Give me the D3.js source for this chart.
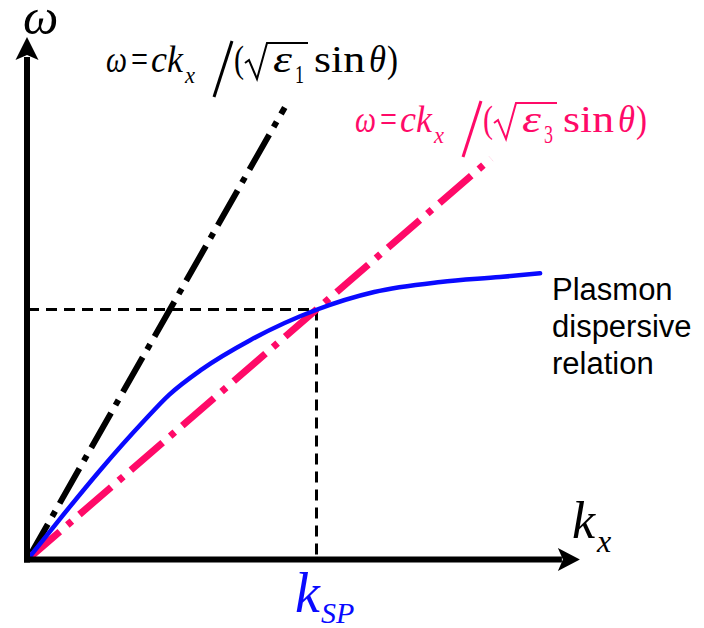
<!DOCTYPE html>
<html>
<head>
<meta charset="utf-8">
<script src="https://cdn.jsdelivr.net/npm/d3@7"></script>
<style>
  html, body { margin: 0; padding: 0; background: #fff; }
  svg { display: block; }
</style>
</head>
<body>
<svg id="chart" width="704" height="628"></svg>
<script>
// Surface plasmon dispersion: k in units of k_SP, omega in units of omega at the crossing point
const plasmonK = [0, 0.111, 0.25, 0.40, 0.49, 0.60, 0.77, 1.0, 1.2, 1.43, 1.636, 1.775];
const plasmonW = [0, 0.161, 0.356, 0.551, 0.659, 0.758, 0.877, 0.999, 1.07, 1.11, 1.13, 1.145];

// Light lines in medium 1 and medium 3 (end points)
const light1K = [0, 0.89];
const light1W = [0, 1.81];
const light3K = [0, 1.605];
const light3W = [0, 1.605];

// Crossing point of the plasmon curve and the medium-3 light line
const kSP = 1.0;
const wSP = 1.0;

// Extent of the axes
const kAxisMax = 1.913;
const wAxisMax = 2.092;

const BLACK = "#000";
const BLUE = "#0a0aff";
const PINK = "#ff0a68";
const SERIF = "'Liberation Serif', 'DejaVu Serif', serif";
const SANS = "'Liberation Sans', Arial, sans-serif";

const svg = d3.select("#chart");

const x = d3.scaleLinear().domain([0, 1]).range([28, 316.5]);
const y = d3.scaleLinear().domain([0, 1]).range([559, 309.5]);

const zip = (ks, ws) => ks.map((k, i) => ({ k, w: ws[i] }));

const line = d3.line().x(d => x(d.k)).y(d => y(d.w));
const curve = d3.line().x(d => x(d.k)).y(d => y(d.w)).curve(d3.curveMonotoneX);

// Dashed guides to the crossing point
svg.append("line")
  .attr("x1", x(0)).attr("y1", y(wSP))
  .attr("x2", x(kSP)).attr("y2", y(wSP))
  .attr("stroke", BLACK).attr("stroke-width", 3)
  .attr("stroke-dasharray", "11 7");
svg.append("line")
  .attr("x1", x(kSP)).attr("y1", y(wSP))
  .attr("x2", x(kSP)).attr("y2", y(0) - 3)
  .attr("stroke", BLACK).attr("stroke-width", 3)
  .attr("stroke-dasharray", "11 7");

// Light line, medium 1
svg.append("path")
  .attr("d", line(zip(light1K, light1W)))
  .attr("fill", "none").attr("stroke", BLACK).attr("stroke-width", 6)
  .attr("stroke-dasharray", "40 9 6 9");

// Light line, medium 3
svg.append("path")
  .attr("d", line(zip(light3K, light3W)))
  .attr("fill", "none").attr("stroke", PINK).attr("stroke-width", 7)
  .attr("stroke-dasharray", "42 10 6 10");

// Plasmon dispersion relation
svg.append("path")
  .attr("d", curve(zip(plasmonK, plasmonW)))
  .attr("fill", "none").attr("stroke", BLUE).attr("stroke-width", 4.5)
  .attr("stroke-linecap", "round");

// Axes with arrow heads
const ox = x(0) - 1, oy = y(0) + 0.5;
const xTip = x(kAxisMax), yTip = y(wAxisMax);
svg.append("line")
  .attr("x1", ox - 3).attr("y1", oy).attr("x2", xTip - 18).attr("y2", oy)
  .attr("stroke", BLACK).attr("stroke-width", 6);
svg.append("line")
  .attr("x1", ox).attr("y1", oy + 3).attr("x2", ox).attr("y2", yTip + 20)
  .attr("stroke", BLACK).attr("stroke-width", 6);
svg.append("path")
  .attr("d", `M${xTip},${oy} L${xTip - 22},${oy - 11.5} L${xTip - 17},${oy} L${xTip - 22},${oy + 11.5} Z`)
  .attr("fill", BLACK);
svg.append("path")
  .attr("d", `M${ox},${yTip} L${ox - 11.5},${yTip + 23} L${ox},${yTip + 18} L${ox + 11.5},${yTip + 23} Z`)
  .attr("fill", BLACK);

// Axis labels
svg.append("text")
  .attr("x", 23).attr("y", 34)
  .attr("font-family", SERIF).attr("font-style", "italic").attr("font-size", 50)
  .attr("fill", BLACK).text("ω");

const kx = svg.append("g").attr("fill", BLACK).attr("font-family", SERIF).attr("font-style", "italic");
kx.append("text").attr("x", 572).attr("y", 538).attr("font-size", 52).text("k");
kx.append("text").attr("x", 597).attr("y", 552).attr("font-size", 32).text("x");

const ksp = svg.append("g").attr("fill", BLUE).attr("font-family", SERIF).attr("font-style", "italic");
ksp.append("text").attr("x", 295).attr("y", 612).attr("font-size", 56).text("k");
ksp.append("text").attr("x", 321).attr("y", 623).attr("font-size", 30).text("SP");

// Curve annotation
const note = svg.append("text")
  .attr("font-family", SANS).attr("font-size", 31).attr("fill", BLACK);
["Plasmon", "dispersive", "relation"].forEach((s, i) => {
  note.append("tspan").attr("x", 552).attr("y", 300 + i * 37).text(s);
});

// Light-line formula:  ω = c kx / (√εn sin θ)
function formula(x0, y0, digit, color) {
  const g = svg.append("g").attr("transform", `translate(${x0},${y0})`)
    .attr("fill", color).attr("font-family", SERIF);
  const piece = (t, px, w, opts = {}) => g.append("text")
    .attr("x", px).attr("y", opts.dy || 0)
    .attr("font-size", opts.size || 38)
    .attr("font-style", opts.italic ? "italic" : "normal")
    .attr("textLength", w).attr("lengthAdjust", "spacingAndGlyphs")
    .text(t);
  piece("ω", 0, 21, { italic: true });
  piece("=", 25, 17);
  piece("ck", 45, 32, { italic: true });
  piece("x", 79, 10, { italic: true, size: 24, dy: 11 });
  g.append("line")
    .attr("x1", 108).attr("y1", 25).attr("x2", 126).attr("y2", -31)
    .attr("stroke", color).attr("stroke-width", 3);
  piece("(", 128, 10);
  g.append("path")
    .attr("d", "M139,-9 L143,-12 L151,7 L161,-29 L202,-29")
    .attr("fill", "none").attr("stroke", color).attr("stroke-width", 2)
    .attr("stroke-linejoin", "miter");
  piece("ε", 167, 19, { italic: true });
  piece(digit, 189, 9, { size: 25, dy: 11 });
  piece("sin", 208, 51);
  piece("θ", 263, 17, { italic: true });
  piece(")", 281, 11);
}
formula(106, 72, "1", BLACK);
formula(355, 132, "3", PINK);
</script>
</body>
</html>
